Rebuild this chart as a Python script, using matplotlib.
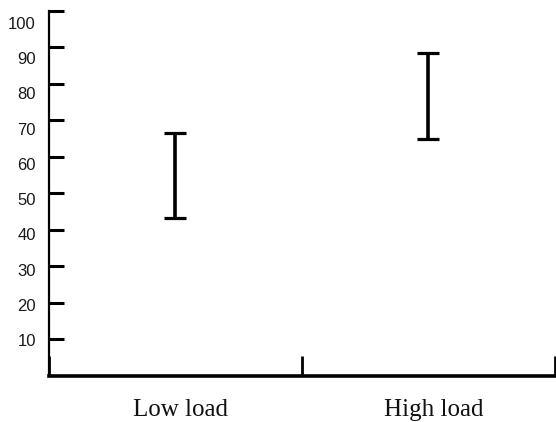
import matplotlib
matplotlib.use("Agg")
import matplotlib.pyplot as plt
import matplotlib.transforms as mtransforms
import numpy as np

categories = ["Low load", "High load"]
lower = [43.3, 65.0]
upper = [66.6, 88.4]
yticks = [10, 20, 30, 40, 50, 60, 70, 80, 90, 100]

fig = plt.figure(figsize=(5.56, 4.22), dpi=100)
ax = fig.add_axes([0.088, 0.109, 0.91, 0.865])

x = np.arange(len(categories)) + 0.5
lo = np.array(lower)
hi = np.array(upper)
mid = (lo + hi) / 2
ax.errorbar(x, mid, yerr=[mid - lo, hi - mid], fmt='none', ecolor='black',
            elinewidth=2.6, capsize=8, capthick=2.3)

ax.set_xlim(0, 2)
ax.set_ylim(0, 100)

# y ticks (labels drawn as text, slightly compressed spacing as in the original)
ax.set_yticks(yticks)
ax.set_yticklabels([])
ax.tick_params(axis='y', direction='in', length=11, width=2.2)
ylab_tr = mtransforms.offset_copy(ax.get_yaxis_transform(), fig=fig, x=-13, y=-6, units='dots')
for t in yticks:
    ax.text(0, t * 0.967 + 0.1, str(t), transform=ylab_tr, ha='right', va='baseline',
            family='Liberation Sans', fontsize=12, color='#1a1a1a')

# x axis
ax.set_xticks([0, 1, 2])
ax.set_xticklabels(['', '', ''])
ax.tick_params(axis='x', which='major', direction='in', length=14.5, width=2)
xlab_tr = mtransforms.offset_copy(
    mtransforms.blended_transform_factory(ax.transData, fig.transFigure),
    fig=fig, x=5, y=0, units='dots')
for xi, c in zip(x, categories):
    ax.text(xi, 6 / 422, c, transform=xlab_tr, ha='center', va='baseline',
            family='Liberation Serif', fontsize=18, color='#111111')

for s in ['top', 'right']:
    ax.spines[s].set_visible(False)
ax.spines['left'].set_linewidth(1.6)
ax.spines['bottom'].set_linewidth(2.6)

fig.savefig("out.png", dpi=100)
